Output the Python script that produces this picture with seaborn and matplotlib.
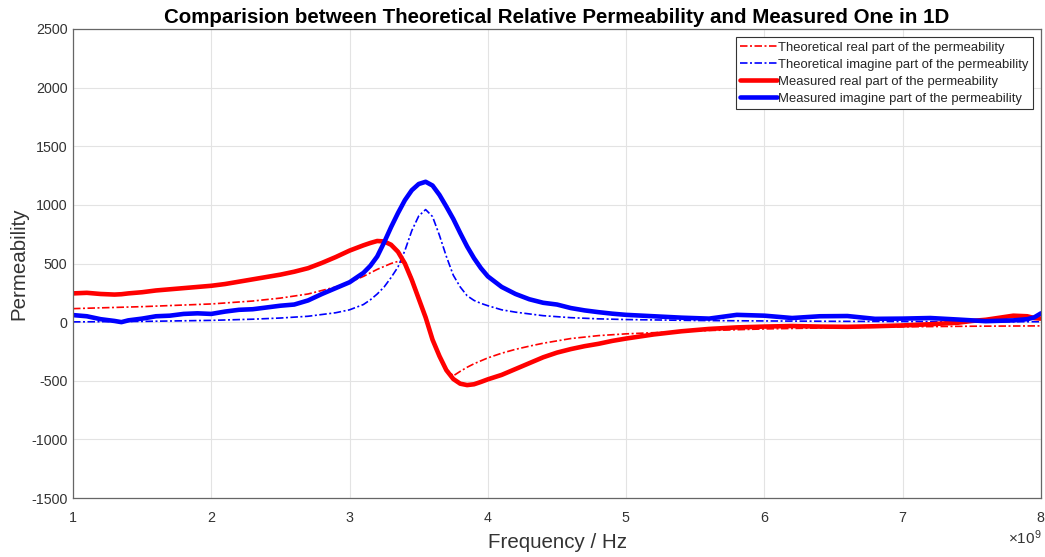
import numpy as np
import pandas as pd
import matplotlib
matplotlib.use("Agg")
import matplotlib.pyplot as plt
from matplotlib.ticker import ScalarFormatter
import seaborn as sns

# ---------------- data (frequency in GHz, converted to Hz for plotting) ----------------
freq_meas = [1.0, 1.1, 1.2, 1.3, 1.35, 1.4, 1.5, 1.6, 1.7, 1.8, 1.9, 2.0, 2.1, 2.2, 2.3, 2.4,
             2.5, 2.6, 2.7, 2.8, 2.9, 3.0, 3.1, 3.15, 3.2, 3.25, 3.3, 3.35, 3.4, 3.45, 3.5,
             3.55, 3.6, 3.65, 3.7, 3.75, 3.8, 3.85, 3.9, 3.95, 4.0, 4.1, 4.2, 4.3, 4.4,
             4.5, 4.6, 4.7, 4.8, 4.9, 5.0, 5.2, 5.4, 5.6, 5.8, 6.0, 6.2, 6.4, 6.6, 6.8,
             7.0, 7.2, 7.4, 7.5, 7.6, 7.8, 7.9, 7.95, 8.0]
meas_real = [245, 250, 240, 235, 238, 245, 255, 270, 280, 290, 300, 310, 325, 345, 365, 385,
             405, 430, 460, 505, 555, 610, 655, 675, 692, 688, 660, 600, 500, 360, 200,
             40, -150, -290, -410, -485, -525, -537, -530, -510, -488, -450, -400, -350, -300,
             -260, -230, -205, -185, -160, -140, -105, -78, -58, -45, -38, -33, -38, -40, -35,
             -28, -18, -5, 10, 20, 55, 50, 35, 30]
meas_imag = [60, 50, 25, 10, 0, 15, 30, 50, 55, 70, 75, 70, 90, 105, 110, 125,
             140, 150, 185, 240, 290, 340, 420, 480, 560, 680, 810, 930, 1040, 1125, 1178,
             1197, 1165, 1085, 985, 880, 760, 645, 545, 460, 390, 300, 240, 195, 165,
             150, 120, 100, 85, 72, 62, 50, 38, 30, 62, 55, 35, 50, 52, 28,
             30, 35, 22, 15, 8, 15, 25, 40, 75]

freq_theo = [1.0, 1.5, 2.0, 2.3, 2.5, 2.7, 2.9, 3.0, 3.1, 3.15, 3.2, 3.25, 3.3, 3.35, 3.4,
             3.45, 3.5, 3.55, 3.6, 3.65, 3.7, 3.75, 3.8, 3.85, 3.9, 3.95, 4.0, 4.1, 4.2,
             4.3, 4.4, 4.6, 4.8, 5.0, 5.5, 6.0, 6.5, 7.0, 7.5, 8.0]
theo_real = [115, 132, 155, 180, 205, 240, 300, 340, 390, 420, 450, 475, 500, 518, 505,
             380, 220, 20, -150, -290, -400, -458, -420, -385, -355, -330, -305, -265, -232,
             -205, -180, -140, -115, -100, -75, -58, -48, -40, -35, -32]
theo_imag = [2, 6, 15, 25, 35, 50, 80, 105, 150, 190, 240, 300, 380, 470, 610,
             780, 905, 960, 900, 740, 560, 400, 300, 225, 185, 160, 140, 105, 85,
             70, 55, 38, 28, 22, 14, 10, 7, 5, 4, 3]

labels = ["Theoretical real part of the permeability",
          "Theoretical imagine part of the permeability",
          "Measured real part of the permeability",
          "Measured imagine part of the permeability"]

x_ticks = [1, 2, 3, 4, 5, 6, 7, 8]
y_ticks = [-1500, -1000, -500, 0, 500, 1000, 1500, 2000, 2500]

# ---------------- styling ----------------
sns.set_style("white")
plt.rcParams["font.family"] = ["Liberation Sans", "DejaVu Sans"]
plt.rcParams["mathtext.fontset"] = "custom"
plt.rcParams["mathtext.rm"] = "Liberation Sans"
plt.rcParams["mathtext.it"] = "Liberation Sans"
plt.rcParams["axes.unicode_minus"] = False

fig = plt.figure(figsize=(10.45, 5.57), dpi=100)
ax = fig.add_axes([73 / 1045, 1 - 498 / 557, (1041 - 73) / 1045, (498 - 29) / 557])

fm = np.array(freq_meas) * 1e9
ft = np.array(freq_theo) * 1e9
dashdot = (0, (4.5, 1.5, 1.2, 1.5))

sns.lineplot(x=ft, y=theo_real, ax=ax, color="#ff0000", lw=1.2, linestyle=dashdot,
             label=labels[0], sort=False, estimator=None)
sns.lineplot(x=ft, y=theo_imag, ax=ax, color="#0000ff", lw=1.2, linestyle=dashdot,
             label=labels[1], sort=False, estimator=None)
sns.lineplot(x=fm, y=meas_real, ax=ax, color="#ff0000", lw=3.3, label=labels[2],
             sort=False, estimator=None)
sns.lineplot(x=fm, y=meas_imag, ax=ax, color="#0000ff", lw=3.3, label=labels[3],
             sort=False, estimator=None)

ax.set_xlim(1e9, 8e9)
ax.set_ylim(-1500, 2500)
ax.set_xticks(np.array(x_ticks) * 1e9)
ax.set_yticks(y_ticks)
fmt = ScalarFormatter(useMathText=True)
fmt.set_powerlimits((0, 0))
ax.xaxis.set_major_formatter(fmt)

ax.grid(True, color="#e3e3e3", lw=0.8)
ax.set_axisbelow(True)
for s in ax.spines.values():
    s.set_color("#666666")
    s.set_linewidth(0.9)
    s.set_visible(True)
ax.tick_params(direction="in", length=5, width=0.8, color="#666666",
               labelsize=10.3, labelcolor="#333333", top=False, right=False)
ax.tick_params(axis="x", pad=9)
ax.tick_params(axis="y", pad=4)
ax.xaxis.get_offset_text().set_fontsize(11)
ax.xaxis.get_offset_text().set_color("#333333")

ax.set_xlabel("Frequency / Hz", fontsize=14.8, color="#333333", labelpad=6)
ax.set_ylabel("Permeability", fontsize=14.8, color="#333333", labelpad=2)
ax.set_title("Comparision between Theoretical Relative Permeability and Measured One in 1D",
             fontsize=14.8, fontweight="bold", color="black", pad=4)

leg = ax.legend(loc="upper right", fontsize=9.4, frameon=True, fancybox=False,
                framealpha=1, edgecolor="#333333", borderpad=0.35, labelspacing=0.38,
                handlelength=2.8, handletextpad=0.1, borderaxespad=0.6)
leg.get_frame().set_linewidth(0.8)

fig.savefig("out.png", dpi=100)
